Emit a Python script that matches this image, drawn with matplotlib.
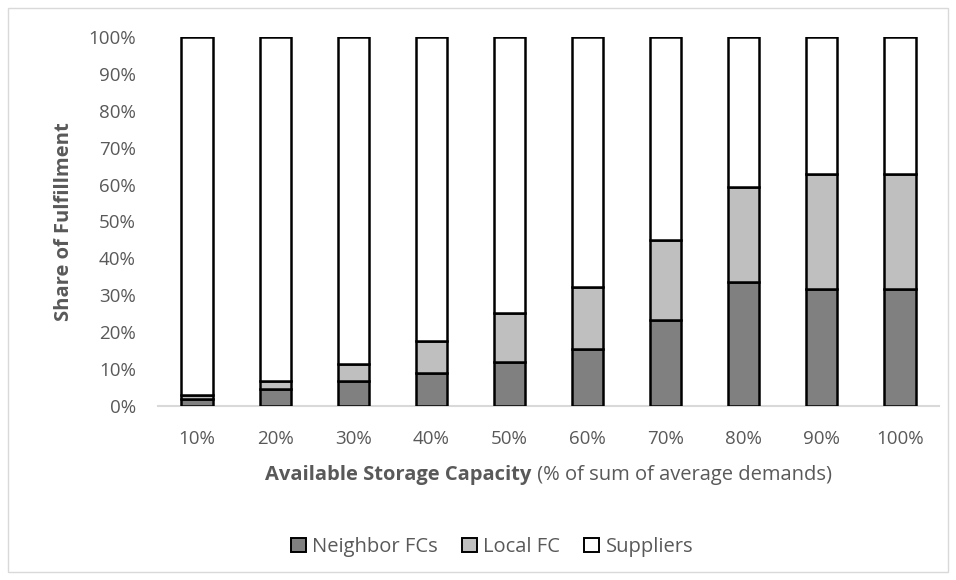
import numpy as np
import matplotlib
matplotlib.use("Agg")
from matplotlib import pyplot as plt
from matplotlib.patches import Rectangle

capacity = ['10%', '20%', '30%', '40%', '50%', '60%', '70%', '80%', '90%', '100%']
neighbor_fcs = [1.8, 4.5, 6.9, 8.9, 11.8, 15.4, 23.3, 33.6, 31.6, 31.6]
local_fc = [1.2, 2.3, 4.5, 8.6, 13.4, 16.8, 21.7, 25.7, 31.4, 31.4]
suppliers = [100 - n - l for n, l in zip(neighbor_fcs, local_fc)]

plt.rcParams['font.family'] = ['Open Sans', 'DejaVu Sans']
gray_text = '#595959'

fig = plt.figure(figsize=(9.56, 5.8), dpi=100)
ax = fig.add_axes([158 / 956, 1 - 406 / 580, (939 - 158) / 956, (406 - 37) / 580])

x = np.arange(len(capacity))
width = 0.4
bar_style = dict(width=width, edgecolor='black', linewidth=1.8, zorder=3)
ax.bar(x, neighbor_fcs, color='#808080', label='Neighbor FCs', **bar_style)
ax.bar(x, local_fc, bottom=neighbor_fcs, color='#bfbfbf', label='Local FC', **bar_style)
bottom2 = [n + l for n, l in zip(neighbor_fcs, local_fc)]
ax.bar(x, suppliers, bottom=bottom2, color='white', label='Suppliers', **bar_style)

ax.set_xlim(-0.5, len(capacity) - 0.5)
ax.set_ylim(0, 100)
ax.set_yticks(np.arange(0, 101, 10))
ax.set_yticklabels([f'{v}%' for v in range(0, 101, 10)])
ax.set_xticks(x)
ax.set_xticklabels(capacity)
ax.tick_params(axis='both', length=0, labelsize=13.5, colors=gray_text)
ax.tick_params(axis='x', pad=17)
ax.tick_params(axis='y', pad=16)

for side in ['top', 'right', 'left']:
    ax.spines[side].set_visible(False)
ax.spines['bottom'].set_color('#d9d9d9')
ax.spines['bottom'].set_linewidth(1.5)

ax.set_ylabel('Share of Fulfillment', fontsize=14.5, fontweight='bold', color=gray_text)
ax.yaxis.set_label_coords((74 - 158) / 781, 0.5)

# x label: bold lead-in followed by regular text, centred together under the axes
fig.canvas.draw()
renderer = fig.canvas.get_renderer()
y_lab = 1 - 475 / 580
t1 = fig.text(0, y_lab, 'Available Storage Capacity', fontsize=14.5, fontweight='bold',
              color=gray_text, va='center', ha='left')
t2 = fig.text(0, y_lab, ' (% of sum of average demands)', fontsize=14.5,
              color=gray_text, va='center', ha='left')
w1 = t1.get_window_extent(renderer).width / fig.bbox.width
w2 = t2.get_window_extent(renderer).width / fig.bbox.width
center = (158 + 939) / 2 / 956
start = center - (w1 + w2) / 2
t1.set_x(start)
t2.set_x(start + w1)

leg = fig.legend(loc='center', bbox_to_anchor=(492 / 956, 1 - 547 / 580), ncol=3, frameon=False,
                 fontsize=14.5, handlelength=0.75, handleheight=0.75, handletextpad=0.3,
                 columnspacing=1.2)
for txt in leg.get_texts():
    txt.set_color(gray_text)
for h in leg.legend_handles:
    h.set_linewidth(1.4)

# light frame around the whole chart
fig.patches.append(Rectangle((8 / 956, 8 / 580), 1 - 16 / 956, 1 - 16 / 580,
                             transform=fig.transFigure, fill=False,
                             edgecolor='#d9d9d9', linewidth=1))

fig.savefig('out.png', dpi=100)
